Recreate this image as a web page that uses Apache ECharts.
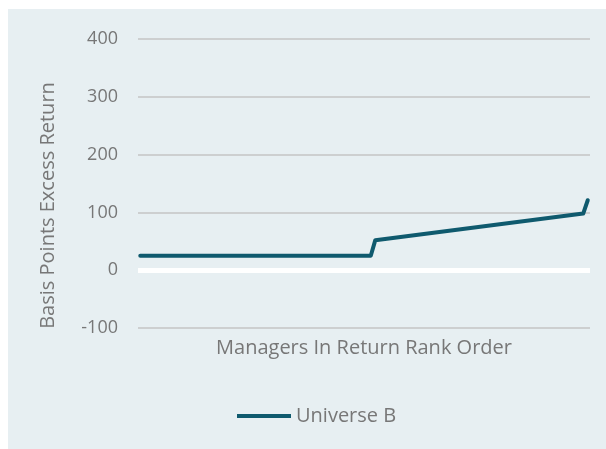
<!DOCTYPE html>
<html>
<head>
<meta charset="utf-8">
<script src="https://cdn.jsdelivr.net/npm/echarts@6/dist/echarts.min.js"></script>
<style>
  html, body { margin: 0; padding: 0; background: #ffffff; }
  #chart { width: 606px; height: 449px; }
</style>
</head>
<body>
<div id="chart"></div>
<script>
 // managers ranked 1..100, only the corner points of the line
 var ranks = [1, 52, 53, 99, 100];
 var excessBp = [25, 25, 52, 98, 121];
 var yTicks = [-100, 0, 100, 200, 300, 400];
 var seriesName = 'Universe B';

 function makeOption() {
   var pts = [];
   for (var i = 0; i < ranks.length; i++) {
     pts.push([ranks[i], excessBp[i]]);
   }
   var option = {
     backgroundColor: '#ffffff',
     textStyle: { fontFamily: 'Open Sans' },
     graphic: [{
       type: 'rect',
       z: -10,
       shape: { x: 8, y: 9, width: 598, height: 440 },
       style: { fill: '#e7eff2' }
     }],
     grid: { left: 138, right: 16, top: 39, bottom: 121, containLabel: false },
     legend: {
       left: 232,
       top: 401,
       itemWidth: 54,
       itemHeight: 20,
       itemGap: 5,
       icon: 'path://M0,0 L54,0 L54,4 L0,4 Z',
       textStyle: { color: '#777777', fontSize: 20, fontFamily: 'Open Sans' },
       data: [seriesName]
     },
     xAxis: {
       type: 'value',
       min: 0.5,
       max: 100.5,
       name: 'Managers In Return Rank Order',
       nameLocation: 'middle',
       nameGap: 10,
       nameTextStyle: { color: '#777777', fontSize: 20, verticalAlign: 'top' },
       axisLine: { show: false, onZero: false },
       axisTick: { show: false },
       axisLabel: { show: false },
       splitLine: { show: false }
     },
     yAxis: {
       type: 'value',
       min: yTicks[0],
       max: yTicks[yTicks.length - 1],
       interval: 100,
       name: 'Basis Points Excess Return',
       nameLocation: 'middle',
       nameGap: 80,
       nameTextStyle: { color: '#777777', fontSize: 20, padding: [0, 44, 0, 0] },
       axisLine: { show: false },
       axisTick: { show: false },
       axisLabel: { color: '#777777', fontSize: 18, margin: 20 },
       splitLine: { lineStyle: { color: '#c4c4c4', width: 1.5 } }
     },
     series: [{
       name: seriesName,
       type: 'line',
       data: pts,
       symbol: 'none',
       lineStyle: { color: '#0f5a6e', width: 4, cap: 'round', join: 'round' },
       itemStyle: { color: '#0f5a6e' },
       markLine: {
         silent: true,
         symbol: ['none', 'none'],
         label: { show: false },
         lineStyle: { color: '#ffffff', width: 5, type: 'solid' },
         data: [{ yAxis: 0 }]
       }
     }]
   };
   return option;
 }

 var myChart = echarts.init(document.getElementById('chart'));
 myChart.setOption(makeOption());
</script>
</body>
</html>
